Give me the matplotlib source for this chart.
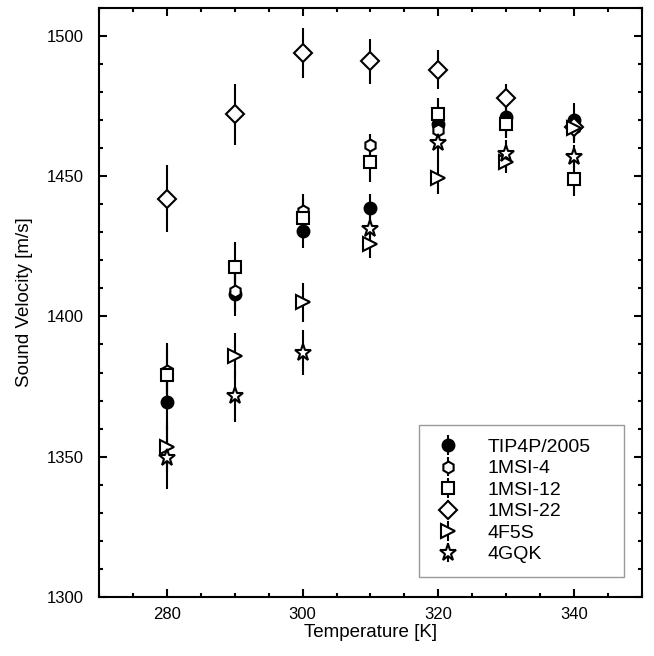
import matplotlib
matplotlib.use('Agg')
from matplotlib import pyplot as plt
from matplotlib.ticker import MultipleLocator

plt.rcParams['font.family'] = ['Liberation Sans', 'DejaVu Sans']

temps = [280, 290, 300, 310, 320, 330, 340]

tip4p = [1369.5, 1408, 1430.5, 1438.5, 1468.5, 1471, 1470]
tip4p_err = [10, 8, 6, 5, 6, 5, 6]
msi4 = [1380.5, 1409, 1437.5, 1461, 1466.5, 1468.5, 1467]
msi4_err = [10, 7, 6, 4, 6, 5, 5]
msi12 = [1379, 1417.5, 1435, 1455, 1472, 1468.5, 1449]
msi12_err = [9, 9, 7, 7, 6, 5, 6]
msi22 = [1442, 1472, 1494, 1491, 1488, 1478, 1467.5]
msi22_err = [12, 11, 9, 8, 7, 5, 5]
f5s = [1353.5, 1386, 1405, 1426, 1449.5, 1455, 1467]
f5s_err = [9, 8, 7, 5, 6, 4, 4]
gqk = [1349.5, 1371.5, 1387, 1431, 1462, 1458, 1457]
gqk_err = [11, 9, 8, 6, 7, 5, 4]

series = [
    ('TIP4P/2005', tip4p, tip4p_err, 'o', 8.5, 'black'),
    ('1MSI-4', msi4, msi4_err, 'h', 8.5, 'white'),
    ('1MSI-12', msi12, msi12_err, 's', 9, 'white'),
    ('1MSI-22', msi22, msi22_err, 'D', 9.5, 'white'),
    ('4F5S', f5s, f5s_err, '>', 9.5, 'white'),
    ('4GQK', gqk, gqk_err, '*', 12.5, 'white'),
]

fig = plt.figure(figsize=(6.54, 6.56), dpi=100)
ax = fig.add_axes([0.151, 0.09, 0.831, 0.898])

for name, vals, errs, mk, ms, fc in series:
    ax.errorbar(temps, vals, yerr=errs, fmt=mk, ms=ms, mfc=fc, mec='black',
                mew=1.5, ecolor='black', elinewidth=1.5, capsize=0,
                color='black', label=name)

ax.set_xlim(270, 350)
ax.set_ylim(1300, 1510)
ax.xaxis.set_major_locator(MultipleLocator(20))
ax.xaxis.set_minor_locator(MultipleLocator(5))
ax.yaxis.set_major_locator(MultipleLocator(50))
ax.yaxis.set_minor_locator(MultipleLocator(10))
ax.tick_params(which='both', direction='in', top=True, right=True, width=1.5)
ax.tick_params(which='major', length=6, labelsize=12)
ax.tick_params(which='minor', length=3)
ax.tick_params(axis='x', which='major', pad=7)
ax.tick_params(axis='y', which='major', pad=11)
for sp in ax.spines.values():
    sp.set_linewidth(1.5)

ax.set_xlabel('Temperature [K]', fontsize=13.5, labelpad=2)
ax.set_ylabel('Sound Velocity [m/s]', fontsize=13.5, labelpad=10)

leg = ax.legend(loc='lower left', bbox_to_anchor=(0.59, 0.034, 0.377, 0.261),
                mode='expand', fontsize=14, fancybox=False, frameon=True,
                edgecolor='gray', borderpad=0.7, labelspacing=0.2,
                handlelength=1.5, handletextpad=1.3, borderaxespad=0)
leg.get_frame().set_linewidth(1.0)

fig.savefig('out.png', dpi=100)
